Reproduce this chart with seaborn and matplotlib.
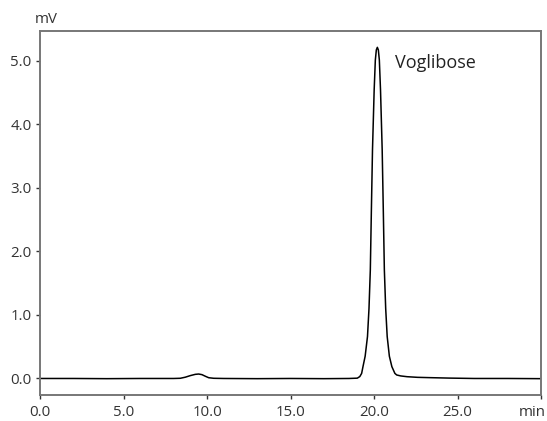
import numpy as np
import pandas as pd
import seaborn as sns
import matplotlib.pyplot as plt
from matplotlib.transforms import ScaledTranslation

# chromatogram trace (time in min, signal in mV)
time_min = [0.0, 2.0, 4.0, 6.0, 8.0, 8.4,
            8.7, 9.0, 9.3, 9.5, 9.7, 9.9, 10.1, 10.4,
            11.0, 13.0, 15.0, 17.0, 18.5, 19.0,
            19.15, 19.26, 19.34, 19.47, 19.61, 19.70, 19.78, 19.84, 19.91,
            19.96, 20.01, 20.08, 20.14, 20.20,
            20.26, 20.32, 20.39, 20.44, 20.49, 20.56, 20.62, 20.70, 20.79,
            20.92, 21.07, 21.25, 21.36, 21.60, 21.98, 22.60, 23.35, 24.5,
            26.0, 28.0, 30.0]
signal_mv = [0.0, 0.0, -0.003, 0.0, 0.0, 0.003,
             0.02, 0.045, 0.065, 0.07, 0.06, 0.035, 0.012, 0.003,
             0.0, -0.003, 0.0, -0.003, 0.0, 0.005,
             0.03, 0.08, 0.186, 0.35, 0.66, 1.1, 1.71, 2.6, 3.6,
             4.07, 4.54, 5.01, 5.17, 5.21,
             5.17, 5.01, 4.54, 4.07, 3.6, 2.6, 1.71, 1.1, 0.66,
             0.35, 0.186, 0.08, 0.055, 0.04, 0.028, 0.018, 0.013, 0.006,
             0.0, 0.0, -0.003]

x_ticks = [0, 5, 10, 15, 20, 25, 30]
x_labels = ['0.0', '5.0', '10.0', '15.0', '20.0', '25.0', 'min']
y_ticks = [0, 1, 2, 3, 4, 5]
y_labels = ['0.0', '1.0', '2.0', '3.0', '4.0', '5.0']

peak_name = 'Voglibose'
peak_label_pos = (21.25, 4.97)

sns.set_style('ticks')
plt.rcParams['font.family'] = ['Open Sans', 'DejaVu Sans']

df = pd.DataFrame({'time': time_min, 'signal': signal_mv})

fig = plt.figure(figsize=(5.47, 4.21), dpi=100)
ax = fig.add_axes([40 / 547, 26 / 421, 501 / 547, 364 / 421])

sns.lineplot(data=df, x='time', y='signal', ax=ax, color='black',
             linewidth=1.1, estimator=None, sort=False)

ax.set_xlim(0, 30)
ax.set_ylim(-0.26, 5.467)
ax.set_xticks(x_ticks)
ax.set_xticklabels(x_labels)
ax.set_yticks(y_ticks)
ax.set_yticklabels(y_labels)
ax.set_xlabel('')
ax.set_ylabel('')

for side in ['left', 'right', 'top', 'bottom']:
    ax.spines[side].set_visible(True)
    ax.spines[side].set_color('#777777')
    ax.spines[side].set_linewidth(1.4)

ax.tick_params(axis='both', direction='out', length=3, width=1,
               color='#333333', labelsize=10.8, labelcolor='#333333')
ax.tick_params(axis='x', pad=4)
ax.tick_params(axis='y', pad=3)

# the unit label sits on the last tick; keep it inside the picture
last = ax.get_xticklabels()[-1]
last.set_horizontalalignment('right')
last.set_transform(last.get_transform() + ScaledTranslation(0.045, 0, fig.dpi_scale_trans))

ax.text(peak_label_pos[0], peak_label_pos[1], peak_name, fontsize=13,
        color='#222222', va='center', ha='left')

ax.annotate('mV', xy=(0, 1), xycoords='axes fraction', xytext=(6, 4),
            textcoords='offset pixels', ha='center', va='bottom',
            fontsize=10.8, color='#333333')

fig.savefig('out.png', dpi=100)
